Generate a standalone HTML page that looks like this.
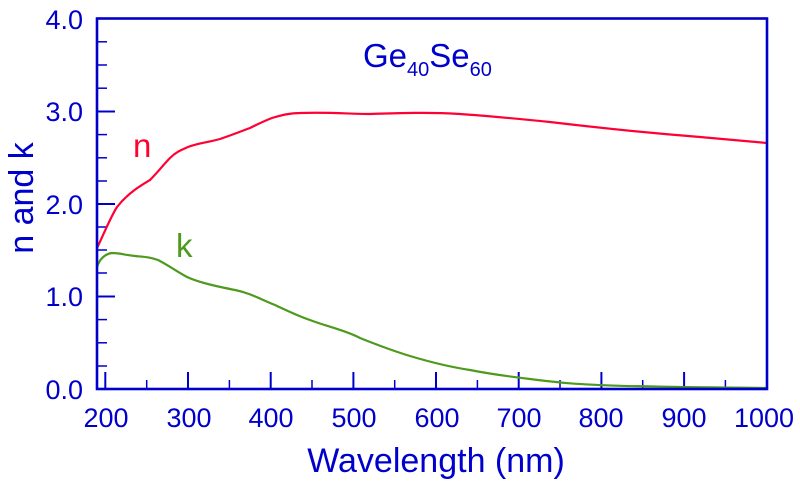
<!DOCTYPE html>
<html><head><meta charset="utf-8"><style>
html,body{margin:0;padding:0;background:#fff;}
svg{display:block;}
text{font-family:"Liberation Sans",sans-serif;fill:#0000cc;}
</style></head><body>
<svg width="800" height="486" viewBox="0 0 800 486" xmlns="http://www.w3.org/2000/svg">
<g stroke="#0000cc" stroke-width="2">
<line x1="97" y1="111.5" x2="115" y2="111.5"/>
<line x1="97" y1="204" x2="115" y2="204"/>
<line x1="97" y1="296.5" x2="115" y2="296.5"/>
<g stroke-width="1.5">
<line x1="97" y1="41.8" x2="107" y2="41.8"/><line x1="97" y1="65" x2="107" y2="65"/><line x1="97" y1="88.2" x2="107" y2="88.2"/>
<line x1="97" y1="134.6" x2="107" y2="134.6"/><line x1="97" y1="157.8" x2="107" y2="157.8"/><line x1="97" y1="181" x2="107" y2="181"/>
<line x1="97" y1="227" x2="107" y2="227"/><line x1="97" y1="250" x2="107" y2="250"/><line x1="97" y1="273" x2="107" y2="273"/>
<line x1="97" y1="319.6" x2="107" y2="319.6"/><line x1="97" y1="342.8" x2="107" y2="342.8"/><line x1="97" y1="366" x2="107" y2="366"/>
</g>
<line x1="105.3" y1="389" x2="105.3" y2="372"/>
<line x1="188" y1="389" x2="188" y2="372"/>
<line x1="270.7" y1="389" x2="270.7" y2="372"/>
<line x1="353.4" y1="389" x2="353.4" y2="372"/>
<line x1="436" y1="389" x2="436" y2="372"/>
<line x1="518.7" y1="389" x2="518.7" y2="372"/>
<line x1="601.4" y1="389" x2="601.4" y2="372"/>
<line x1="684.1" y1="389" x2="684.1" y2="372"/>
<g stroke-width="1.5">
<line x1="146.7" y1="389" x2="146.7" y2="380"/><line x1="229.4" y1="389" x2="229.4" y2="380"/><line x1="312" y1="389" x2="312" y2="380"/>
<line x1="394.7" y1="389" x2="394.7" y2="380"/><line x1="477.4" y1="389" x2="477.4" y2="380"/><line x1="560" y1="389" x2="560" y2="380"/>
<line x1="642.7" y1="389" x2="642.7" y2="380"/><line x1="725.4" y1="389" x2="725.4" y2="380"/>
</g>
</g>
<path d="M97,248 C103,236 110,218 117,207 C128,193 140,186 150,180 C158,172 164,164 170,158 C176,152 181,150 188,147 C198,143 210,142 220,139 C232,135 242,131 250,128 C258,124 264,121 272,118 C282,115 290,113 300,113 C330,112 350,114 370,114 C400,113 430,112 460,114 C490,116 510,118 550,122 C600,128 650,133 700,137 C730,139.5 750,141.5 767,143" fill="none" stroke="#ff0033" stroke-width="2.2"/>
<path d="M97,267 C100,258 105,254 112,253 C120,253 125,255 135,256 C145,257 150,257 158,260 C168,265 176,271 187,277 C200,283 220,287 235,290 C250,293 260,299 275,305 C290,312 298,316 310,320 C325,326 345,330 360,338 C375,344 390,350 410,356 C430,362 450,367 470,370 C490,374 505,376 530,379 C560,383 580,384.5 620,385.8 C660,386.8 700,387.5 767,388" fill="none" stroke="#4d9a1e" stroke-width="2.2"/>
<rect x="97" y="18.5" width="670" height="370.5" fill="none" stroke="#0000cc" stroke-width="2.6"/>
<g font-size="27" text-anchor="end">
<text x="83" y="29">4.0</text>
<text x="83" y="121">3.0</text>
<text x="83" y="214">2.0</text>
<text x="83" y="306">1.0</text>
<text x="83" y="399">0.0</text>
</g>
<g font-size="27" text-anchor="middle">
<text x="106" y="427">200</text>
<text x="189" y="427">300</text>
<text x="271" y="427">400</text>
<text x="354" y="427">500</text>
<text x="437" y="427">600</text>
<text x="519" y="427">700</text>
<text x="601" y="427">800</text>
<text x="684" y="427">900</text>
<text x="764" y="427">1000</text>
</g>
<text x="436" y="472" font-size="34" text-anchor="middle">Wavelength (nm)</text>
<text transform="translate(33,198) rotate(-90)" font-size="34" text-anchor="middle">n and k</text>
<text x="363" y="67" font-size="33">Ge<tspan font-size="20" dy="9">40</tspan><tspan dy="-9">Se</tspan><tspan font-size="20" dy="9">60</tspan></text>
<text x="133" y="157" font-size="33" style="fill:#ff0033">n</text>
<text x="176" y="257" font-size="33" style="fill:#4d9a1e">k</text>
</svg>
</body></html>
